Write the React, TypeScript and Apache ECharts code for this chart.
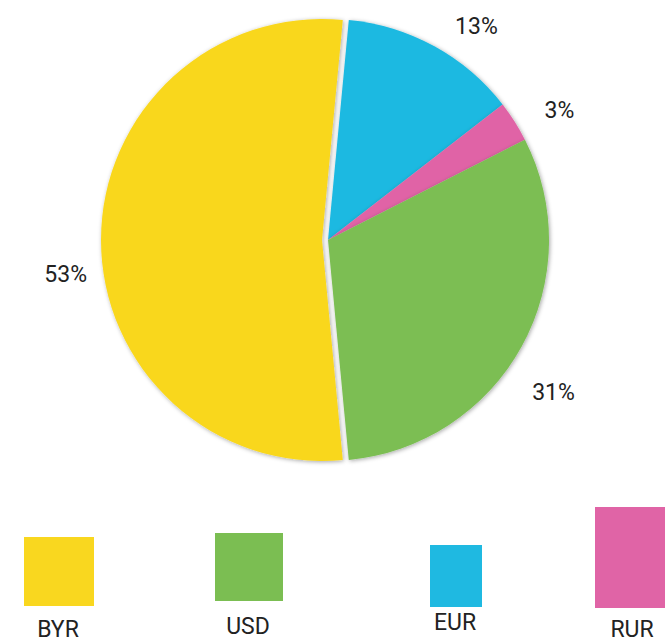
import React, { useEffect, useRef } from "react";
import * as echarts from "echarts";

// ---- data ----
const categories = ["BYR", "USD", "EUR", "RUR"];
const shares = [53, 31, 13, 3]; // percent
const pieOrder = ["EUR", "RUR", "USD", "BYR"]; // clockwise from top
const colors: Record<string, string> = {
  BYR: "#F9D71F",
  USD: "#7BBE52",
  EUR: "#1FB9E1",
  RUR: "#E064A6",
};

// ---- layout (legend swatches: x, y, w, h ; label centre) ----
const legendLayout: Record<string, { x: number; y: number; w: number; h: number; tx: number; ty: number }> = {
  BYR: { x: 24, y: 537, w: 70, h: 69, tx: 58, ty: 629 },
  USD: { x: 215, y: 533, w: 68, h: 68, tx: 248, ty: 626 },
  EUR: { x: 430, y: 545, w: 52, h: 62, tx: 455, ty: 622 },
  RUR: { x: 595, y: 507, w: 72, h: 101, tx: 632, ty: 629 },
};
// label nudges (px) for outside labels
const labelNudge: Record<string, { dx: number; dy: number }> = {
  EUR: { dx: -2, dy: -2 },
  RUR: { dx: 0, dy: 0 },
  USD: { dx: -20, dy: 36 },
  BYR: { dx: 19, dy: 34 },
};

const FONT = "Roboto, 'Liberation Sans', sans-serif";

export default function App() {
  const ref = useRef<HTMLDivElement>(null);

  useEffect(() => {
    if (!ref.current) return;
    const chart = echarts.init(ref.current, undefined, { renderer: "svg" });

    const data = pieOrder.map((name) => {
      const v = shares[categories.indexOf(name)];
      return {
        name,
        value: v,
        selected: name === "BYR",
        itemStyle: { color: colors[name] },
      };
    });

    const graphic: any[] = [];
    categories.forEach((name) => {
      const l = legendLayout[name];
      graphic.push({
        type: "rect",
        shape: { x: l.x, y: l.y, width: l.w, height: l.h },
        style: { fill: colors[name] },
      });
      graphic.push({
        type: "text",
        x: l.tx,
        y: l.ty,
        style: {
          text: name,
          fill: "#222",
          font: `23px ${FONT}`,
          textAlign: "center",
          textVerticalAlign: "middle",
        },
      });
    });

    chart.setOption({
      animation: false,
      backgroundColor: "#ffffff",
      series: [
        {
          type: "pie",
          center: [328, 240],
          radius: 221,
          startAngle: 84.6,
          clockwise: true,
          selectedMode: "single",
          selectedOffset: 6,
          data,
          itemStyle: {
            shadowBlur: 4,
            shadowColor: "rgba(0,0,0,0.35)",
            shadowOffsetX: 1,
            shadowOffsetY: 1,
          },
          emphasis: { disabled: true },
          label: {
            show: true,
            position: "outside",
            formatter: "{c}%",
            fontFamily: FONT,
            fontSize: 23,
            color: "#222",
          },
          labelLine: { show: false, length: 20, length2: 8 },
          labelLayout: (params: any) => {
            const n = labelNudge[pieOrder[params.dataIndex]];
            return { dx: n.dx, dy: n.dy };
          },
        },
      ],
      graphic,
    });

    return () => chart.dispose();
  }, []);

  return (
    <div
      ref={ref}
      style={{ position: "fixed", left: 0, top: 0, width: 665, height: 642 }}
    />
  );
}
